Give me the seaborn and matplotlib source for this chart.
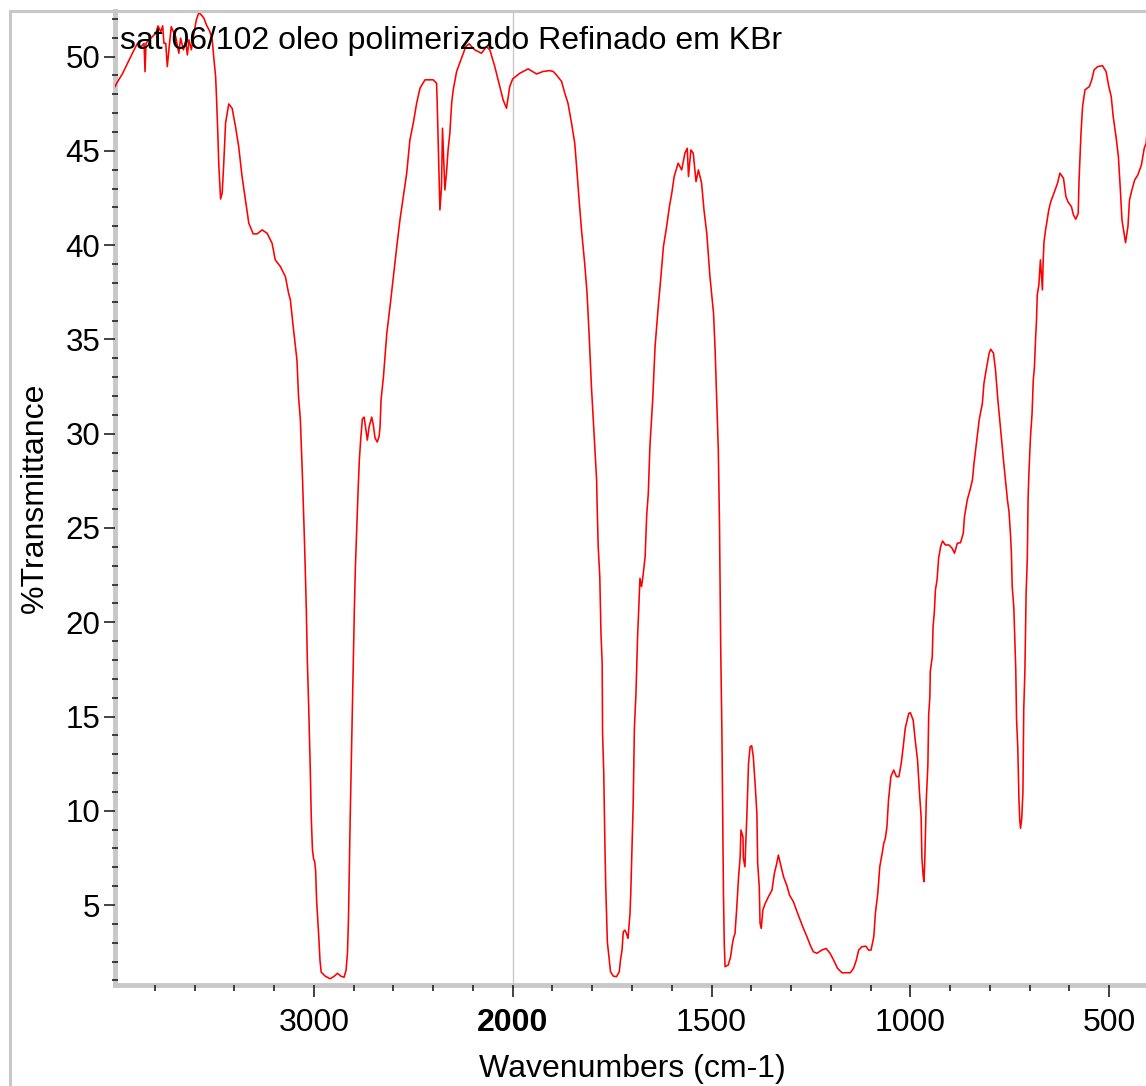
import numpy as np
import pandas as pd
import matplotlib
matplotlib.use("Agg")
import matplotlib.pyplot as plt
import seaborn as sns
from matplotlib.ticker import FixedLocator, FixedFormatter
from matplotlib.lines import Line2D

# ---------------- data ----------------
wavenumber = [
    4000, 3991, 3962, 3937, 3904, 3887, 3871, 3854, 3849, 3844,
    3829, 3812, 3795, 3784, 3770, 3760, 3754, 3745, 3737, 3729,
    3717, 3707, 3695, 3679, 3670, 3656, 3645, 3636, 3628, 3616,
    3603, 3591, 3578, 3566, 3553, 3540, 3523, 3511, 3503, 3494,
    3489, 3483, 3478, 3469, 3461, 3453, 3444, 3428, 3411, 3394,
    3378, 3361, 3344, 3327, 3305, 3285, 3260, 3235, 3210, 3194,
    3168, 3143, 3127, 3118, 3102, 3085, 3077,
    3068, 3063, 3058, 3053, 3048, 3043, 3038, 3033, 3025, 3018,
    3013, 3007, 3001, 2996, 2991, 2986, 2976, 2969, 2963, 2943,
    2918, 2897, 2881, 2864, 2848, 2838, 2831, 2826, 2822, 2817,
    2811, 2806, 2801, 2796, 2791, 2784, 2777, 2771, 2764, 2756,
    2747, 2739, 2731, 2722, 2709, 2701, 2692, 2681, 2672, 2667,
    2662,
    2650, 2633, 2617, 2600, 2583, 2567, 2550, 2533, 2517, 2500,
    2483, 2466, 2441, 2400, 2383, 2380, 2375, 2366, 2358, 2353,
    2346, 2341, 2333, 2325, 2316, 2307, 2299, 2282, 2257, 2236,
    2219, 2191, 2157, 2132, 2115, 2090, 2065, 2048, 2031, 2015,
    2000,
    1982, 1961, 1940, 1924, 1907, 1898, 1890, 1877, 1869, 1861,
    1852, 1844, 1840, 1833, 1827, 1819, 1813, 1808, 1802, 1795,
    1789, 1788, 1785, 1781, 1778, 1775, 1774, 1771, 1768, 1766,
    1762, 1757, 1754, 1747, 1739, 1732, 1729, 1725, 1722, 1718,
    1714, 1710, 1705, 1703, 1699, 1697, 1694, 1690, 1686, 1684,
    1680, 1676, 1672, 1667, 1663, 1659, 1655, 1648, 1642, 1634,
    1628, 1621, 1613, 1606, 1600, 1594, 1584, 1575, 1567, 1561,
    1558, 1552, 1546, 1539, 1533, 1525, 1519, 1512, 1504, 1495,
    1491, 1487, 1483, 1480, 1477, 1474, 1470, 1468, 1466, 1458,
    1452, 1448, 1445, 1441, 1437, 1432, 1428, 1426, 1421, 1420,
    1416, 1414, 1411, 1407, 1403, 1399, 1395, 1390, 1386, 1384,
    1380, 1378, 1375, 1371, 1365, 1357, 1348, 1342, 1336, 1332,
    1327, 1319, 1311, 1304, 1294, 1285, 1277, 1269, 1260, 1252,
    1244, 1235, 1223, 1212, 1202, 1193, 1183, 1172, 1151, 1143,
    1136, 1130, 1122, 1112, 1105, 1099, 1092, 1088, 1082, 1077,
    1071, 1067, 1063, 1059, 1055, 1049, 1042, 1035, 1029, 1023,
    1018, 1013, 1004, 1000, 993, 987, 982, 977, 973, 971,
    968, 966, 964, 960, 956, 954, 951, 950, 945, 943,
    940, 937, 933, 929, 924, 919, 912, 903, 895, 889,
    882, 874, 867, 864, 857, 850, 844, 840, 833, 827,
    819, 815, 808, 802, 798, 791, 786, 780, 773, 766,
    761, 756, 752, 748, 746, 744, 740, 737, 735, 733,
    730, 727, 725, 723, 720, 717, 715, 712, 709, 706,
    704, 702, 698, 694, 691, 688, 685, 683, 681, 677,
    673, 668, 666, 664, 660, 656, 652, 647, 639, 630,
    624, 615, 609, 604, 595, 590, 584, 578, 576, 571,
    567, 561, 550, 544, 538, 529, 517, 508, 501, 495,
    490, 483, 477, 472, 468, 464, 459, 453, 449, 443,
    436, 428, 419, 412, 407, 405,
]

transmittance = [
    48.4, 48.6, 49.1, 49.65, 50.36, 50.7, 50.5, 50.7, 49.2, 50.7,
    50.9, 51.06, 51.24, 51.63, 51.33, 51.63, 50.71, 50.71, 49.47, 50.36,
    51.59, 51.33, 51.06, 50.18, 50.98, 50.36, 50.8, 50.09, 50.89, 50.36,
    51.24, 51.95, 52.34, 52.21, 52.04, 51.68, 51.33, 50.89, 49.92, 48.94,
    47.7, 45.94, 44.26, 42.45, 42.76, 44.35, 46.47, 47.49, 47.26, 46.29,
    45.23, 43.64, 42.4, 41.16, 40.6, 40.6, 40.81, 40.63, 40.1, 39.22,
    38.86, 38.33, 37.45, 37.09, 35.5, 33.91, 31.97,
    30.78, 29.35, 27.93, 26.31, 24.58, 22.76, 20.72, 18.09, 15.14, 12.2,
    9.66, 7.93, 7.43, 7.32, 6.82, 5.2, 3.47, 2.05, 1.44, 1.23,
    1.09, 1.23, 1.38, 1.23, 1.17, 1.54, 2.45, 4.18, 6.82, 9.76,
    12.91, 15.75, 18.29, 20.83, 22.96, 25.09, 27.12, 28.64, 29.76, 30.78,
    30.88, 30.27, 29.66, 30.37, 30.88, 30.47, 29.76, 29.56, 29.86, 30.37,
    31.79,
    33.02, 35.33, 36.74, 38.33, 39.92, 41.34, 42.58, 43.82, 45.58, 46.47,
    47.53, 48.33, 48.77, 48.77, 48.59, 47.7, 45.58, 41.87, 43.1, 46.2,
    44.35, 42.93, 43.82, 45.05, 45.94, 47.53, 48.24, 49.21, 49.92, 50.53,
    50.68, 50.36, 50.18, 50.53, 50.36, 49.47, 48.41, 47.7, 47.26, 48.41,
    48.82,
    49.12, 49.35, 49.08, 49.21, 49.26, 49.21, 49.03, 48.68, 48.06, 47.53,
    46.47, 45.41, 44.35, 42.4, 40.81, 39.04, 37.45, 35.33, 32.5, 29.84,
    27.55, 26.49, 24.01, 22.42, 19.41, 17.82, 14.11, 11.99, 8.01, 5.97,
    3.05, 2.08, 1.46, 1.23, 1.2, 1.46, 2.08, 2.61, 3.58, 3.67,
    3.5, 3.23, 4.56, 5.71, 8.71, 10.39, 14.37, 16.23, 19.23, 20.21,
    22.33, 21.89, 22.51, 23.48, 25.69, 26.84, 29.31, 31.79, 34.62, 36.74,
    38.16, 39.92, 40.98, 42.04, 42.75, 43.64, 44.35, 43.99, 44.88, 45.14,
    43.64, 45.05, 44.88, 43.37, 43.99, 43.29, 41.87, 40.63, 38.33, 36.39,
    34.44, 31.79, 29.14, 25.25, 18.7, 14.28, 5.53, 2.97, 1.73, 1.82,
    2.26, 2.88, 3.23, 3.5, 4.73, 6.5, 7.56, 8.98, 8.62, 7.48,
    7.03, 8.27, 9.86, 12.52, 13.4, 13.45, 12.87, 11.28, 9.86, 7.21,
    5.97, 4.03, 3.76, 4.73, 5.09, 5.44, 5.79, 6.68, 7.21, 7.65,
    7.21, 6.5, 6.06, 5.53, 5.17, 4.64, 4.2, 3.76, 3.32, 2.88,
    2.52, 2.44, 2.61, 2.7, 2.44, 2.08, 1.64, 1.41, 1.41, 1.64,
    2.08, 2.61, 2.79, 2.82, 2.61, 2.61, 3.32, 4.56, 5.62, 7.03,
    7.74, 8.27, 8.54, 9.15, 10.57, 11.81, 12.16, 11.81, 11.81, 12.52,
    13.4, 14.37, 15.17, 15.2, 14.81, 13.58, 12.69, 10.92, 9.68, 7.48,
    6.59, 6.24, 7.21, 10.57, 12.43, 15.08, 16.05, 17.38, 18.17, 19.76,
    20.47, 21.71, 22.24, 23.39, 24.01, 24.31, 24.1, 24.1, 23.92, 23.66,
    24.19, 24.22, 24.72, 25.6, 26.49, 27.02, 27.55, 28.43, 29.67, 30.73,
    31.61, 32.68, 33.56, 34.27, 34.48, 34.27, 33.38, 31.79, 30.2, 28.61,
    27.55, 26.49, 25.86, 24.54, 23.66, 21.89, 20.83, 18.7, 17.47, 14.81,
    13.4, 10.57, 9.51, 9.07, 9.6, 11.01, 15.34, 17.47, 21.54, 23.39,
    26.57, 27.9, 29.84, 31.08, 32.85, 33.56, 35.15, 35.94, 37.36, 37.89,
    39.22, 37.63, 39.22, 40.19, 40.81, 41.34, 41.87, 42.31, 42.76, 43.29,
    43.82, 43.55, 42.58, 42.31, 42.04, 41.6, 41.38, 41.69, 43.37, 45.94,
    47.35, 48.24, 48.41, 48.77, 49.3, 49.47, 49.52, 49.21, 48.41, 47.88,
    46.82, 45.76, 44.7, 42.93, 41.34, 40.81, 40.13, 40.98, 42.4, 42.93,
    43.46, 43.73, 44.26, 45.14, 45.41, 46.02,
]

title_text = "sat 06/102 oleo polimerizado Refinado em KBr"
x_label = "Wavenumbers (cm-1)"
y_label = "%Transmittance"
x_major_ticks = [3000, 2000, 1500, 1000, 500]
x_minor_ticks = [3800, 3600, 3400, 3200, 2800, 2600, 2400, 2200,
                 1900, 1800, 1700, 1600, 1400, 1300, 1200, 1100,
                 900, 800, 700, 600, 400]
y_major_ticks = [5, 10, 15, 20, 25, 30, 35, 40, 45, 50]
y_minor_ticks = list(range(1, 53))

# ---------------- style ----------------
sns.set_style("white")
plt.rcParams["font.family"] = ["Liberation Sans", "DejaVu Sans"]
plt.rcParams["text.color"] = "black"
plt.rcParams["axes.labelcolor"] = "black"
plt.rcParams["xtick.labelcolor"] = "black"
plt.rcParams["ytick.labelcolor"] = "black"

W, H = 1146, 1086
fig = plt.figure(figsize=(W / 100, H / 100), dpi=100)
fig.patch.set_facecolor("white")
ax_l, ax_r, ax_t, ax_b = 115, 1149, 11, 985
ax = fig.add_axes([ax_l / W, 1 - ax_b / H, (ax_r - ax_l) / W, (ax_b - ax_t) / H])

df = pd.DataFrame({"wn": wavenumber, "T": transmittance})
sns.lineplot(data=df, x="wn", y="T", ax=ax, color="#ff0000", linewidth=1.15,
             sort=False, estimator=None, zorder=3)


# split x scale: 1000 cm-1 per unit above 2000, 500 cm-1 per unit below
def fwd(x):
    x = np.asarray(x, dtype=float)
    return np.where(x >= 2000, x / 1000.0, 2.0 + (x - 2000.0) / 500.0)


def inv(u):
    u = np.asarray(u, dtype=float)
    return np.where(u >= 2, u * 1000.0, 2000.0 + (u - 2.0) * 500.0)


ax.set_xscale("function", functions=(fwd, inv))
ax.set_xlim(4000, 400)
ax.set_ylim(0.76, 52.42)

ax.xaxis.set_major_locator(FixedLocator(x_major_ticks))
ax.xaxis.set_major_formatter(FixedFormatter([str(t) for t in x_major_ticks]))
ax.xaxis.set_minor_locator(FixedLocator(x_minor_ticks))
ax.yaxis.set_major_locator(FixedLocator(y_major_ticks))
ax.yaxis.set_major_formatter(FixedFormatter([str(t) for t in y_major_ticks]))
ax.yaxis.set_minor_locator(FixedLocator(y_minor_ticks))

tick_col = "#222222"
ax.tick_params(axis="y", which="major", direction="out", length=8, width=1.2,
               color=tick_col, labelcolor="black", labelsize=22.5, pad=2.5, left=True)
ax.tick_params(axis="y", which="minor", direction="inout", length=5, width=1.2,
               color=tick_col, left=True)
ax.tick_params(axis="x", which="major", direction="out", length=8.5, width=1.2,
               color=tick_col, labelcolor="black", labelsize=23, pad=8, bottom=True)
ax.tick_params(axis="x", which="minor", direction="out", length=4.5, width=1.2,
               color=tick_col, bottom=True)

for lab in ax.get_xticklabels():
    if lab.get_text() == "2000":
        lab.set_fontweight("bold")

for side in ["top", "right"]:
    ax.spines[side].set_visible(False)
for side in ["left", "bottom"]:
    ax.spines[side].set_color("#c8c8c8")
    ax.spines[side].set_linewidth(3.5)
    ax.spines[side].set_zorder(1)
ax.set_axisbelow(False)

ax.axvline(2000, color="#c4c4c4", linewidth=0.9, zorder=1)

ax.set_xlabel(x_label, fontsize=23, color="black")
ax.set_ylabel(y_label, fontsize=23, color="black")
ax.xaxis.set_label_coords(0.5, (ax_b - 1054) / (ax_b - ax_t))
ax.xaxis.label.set_va("top")
ax.yaxis.set_label_coords((50 - ax_l) / (ax_r - ax_l), 0.5)

ax.text((120 - ax_l) / (ax_r - ax_l), (ax_b - 48.5) / (ax_b - ax_t), title_text,
        transform=ax.transAxes, fontsize=23, ha="left", va="baseline",
        color="black", zorder=4)

# outer frame lines of the original export
fig.add_artist(Line2D([9.5 / W, 9.5 / W], [0, 1 - 10.5 / H],
                      transform=fig.transFigure, color="#c8c8c8", linewidth=2.2))
fig.add_artist(Line2D([9.5 / W, 1], [1 - 10.5 / H, 1 - 10.5 / H],
                      transform=fig.transFigure, color="#c8c8c8", linewidth=2.2))

fig.savefig("out.png", dpi=100, facecolor="white")
